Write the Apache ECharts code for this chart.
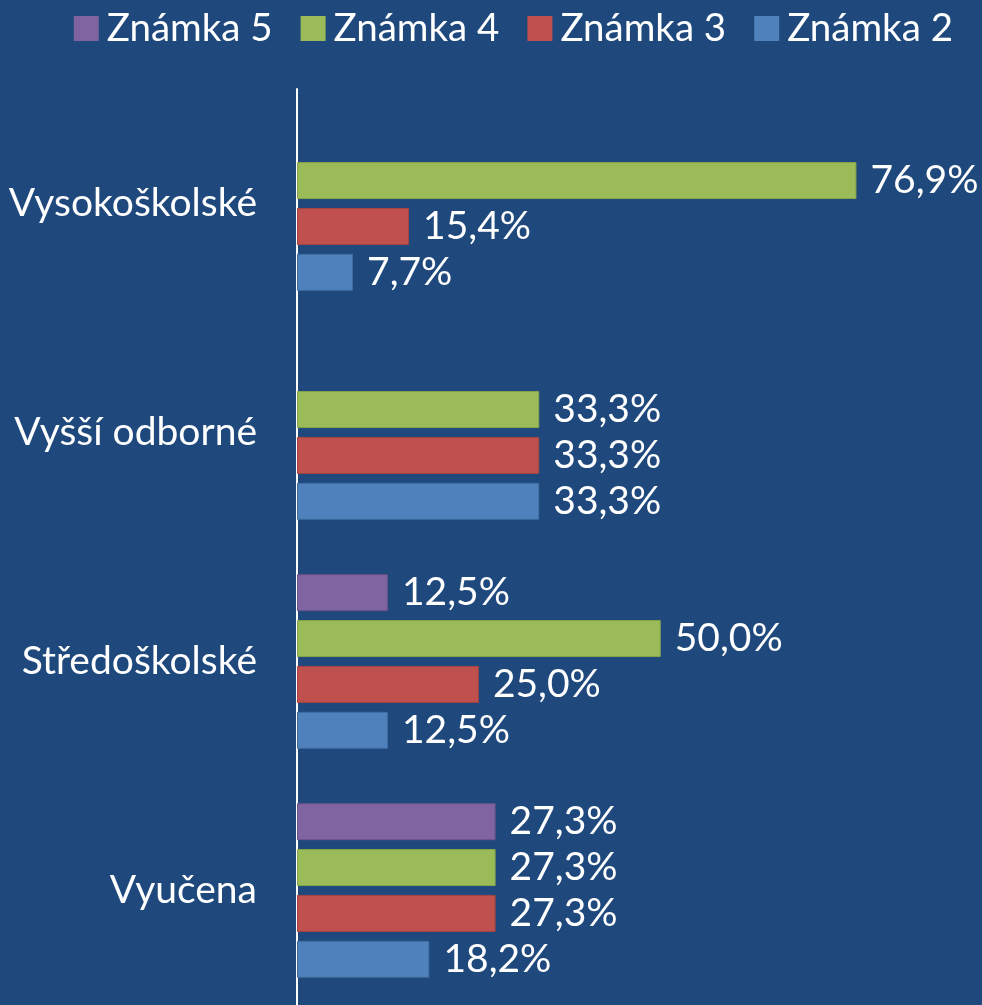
<!DOCTYPE html>
<html>
<head>
<meta charset="utf-8">
<script src="https://cdn.jsdelivr.net/npm/echarts@6/dist/echarts.min.js"></script>
<style>
html, body { margin: 0; padding: 0; background: #1F497D; }
#chart { width: 982px; height: 1005px; }
</style>
</head>
<body>
<div id="chart"></div>
<script>
//kategorie (shora dolu)
var categories = ['Vysokoškolské', 'Vyšší odborné', 'Středoškolské', 'Vyučena'];
//serie, '-' = bez hodnoty
var seriesNames = ['Známka 5', 'Známka 4', 'Známka 3', 'Známka 2'];
var znamka5 = ['-', '-', 12.5, 27.3];
var znamka4 = [76.9, 33.3, 50.0, 27.3];
var znamka3 = [15.4, 33.3, 25.0, 27.3];
var znamka2 = [7.7, 33.3, 12.5, 18.2];
var colors = ['#8064A2', '#9BBB59', '#C0504D', '#4F81BD'];
var borders = ['#6B5389', '#87A34B', '#A64441', '#3F6C9F'];

var font = 'Lato';
var chart = echarts.init(document.getElementById('chart'));

function makeSeries(i, values) {
	return {
		name: seriesNames[i],
		type: 'bar',
		data: values,
		barWidth: 37,
		barGap: '24%',
		itemStyle: { color: colors[i], borderColor: borders[i], borderWidth: 1 },
		label: {
			show: true,
			position: 'right',
			distance: 14,
			color: '#fff',
			fontFamily: font,
			fontSize: 39,
			formatter: function (p) {
				return p.value.toFixed(1).replace('.', ',') + '%';
			}
		},
		animation: false
	};
}

var option = {
	backgroundColor: '#1F497D',
	color: colors,
	legend: {
		data: seriesNames,
		right: 24,
		top: 4,
		itemWidth: 25,
		itemHeight: 25,
		itemGap: 28,
		icon: 'rect',
		itemStyle: { borderWidth: 0 },
		textStyle: { color: '#fff', fontFamily: font, fontSize: 38.5, padding: [0, 0, 0, 3] }
	},
	grid: { left: 297, right: 103, top: 89, height: 924 },
	xAxis: {
		type: 'value',
		min: 0,
		max: 80,
		show: false,
		splitLine: { show: false }
	},
	yAxis: {
		type: 'category',
		inverse: true,
		data: categories,
		axisTick: { show: false },
		axisLine: { lineStyle: { color: '#fff', width: 2 } },
		axisLabel: { color: '#fff', fontFamily: font, fontSize: 39, margin: 40 }
	},
	series: [
		makeSeries(0, znamka5),
		makeSeries(1, znamka4),
		makeSeries(2, znamka3),
		makeSeries(3, znamka2)
	]
};

chart.setOption(option);
</script>
</body>
</html>
